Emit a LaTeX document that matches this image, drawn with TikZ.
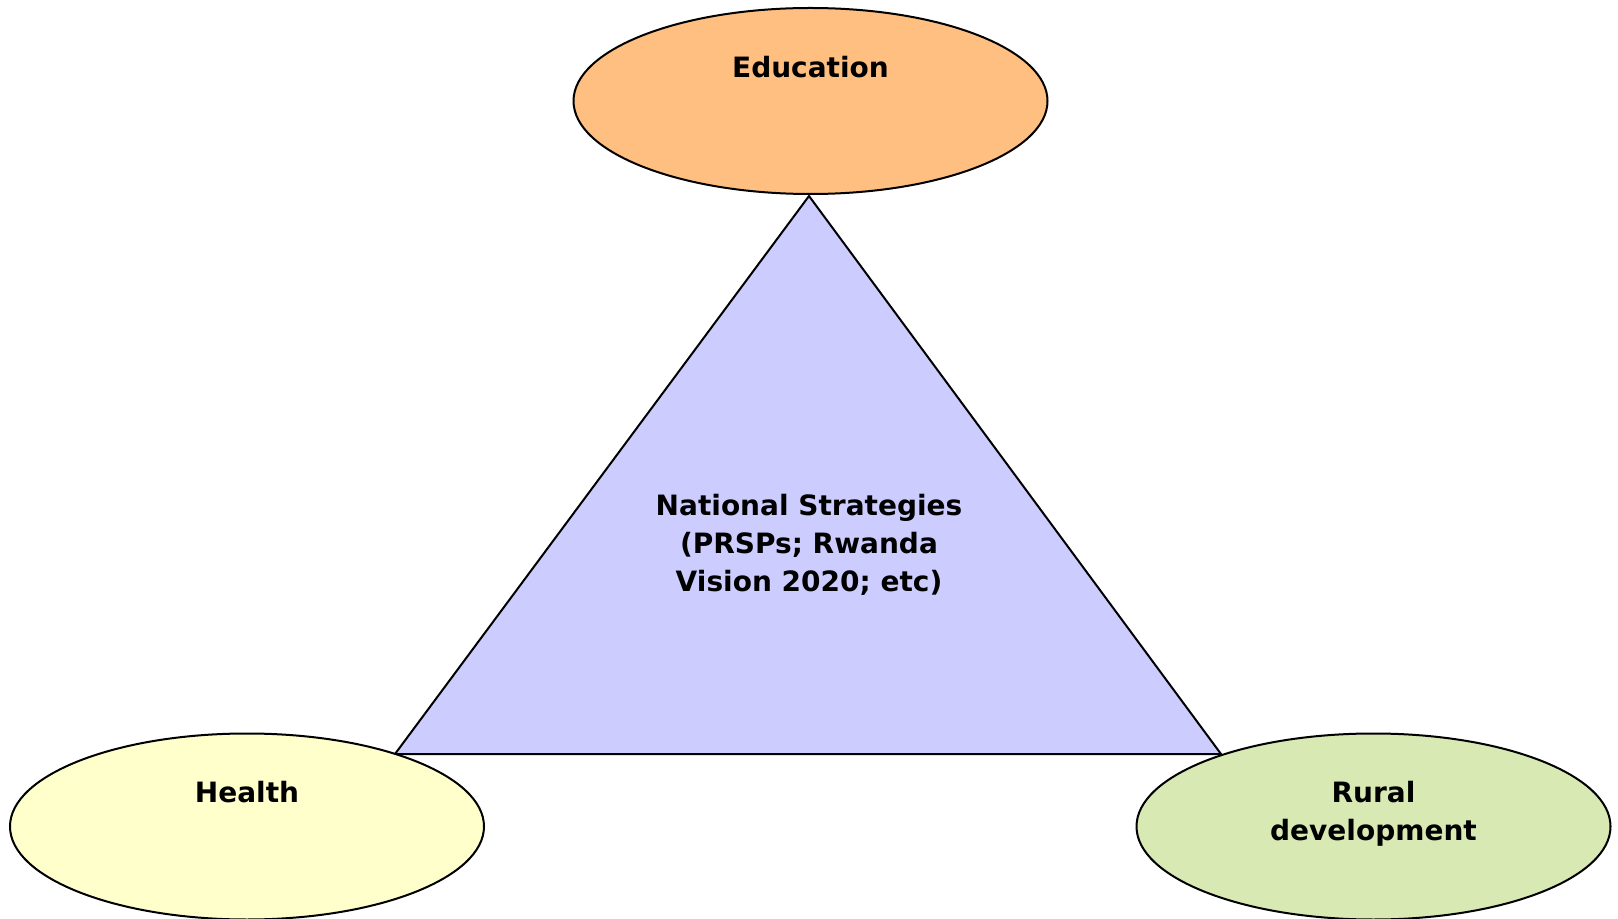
\documentclass[tikz,border=0pt]{standalone}
\usepackage{fontspec}
\setmainfont{DejaVu Sans}
\usepackage{xcolor}
\usetikzlibrary{shapes.geometric, positioning}
\definecolor{eduorange}{RGB}{255,191,128}
\definecolor{healthyellow}{RGB}{255,255,204}
\definecolor{ruralgreen}{RGB}{216,233,179}
\definecolor{strategyblue}{RGB}{204,204,255}
\tikzset{
x=0.5pt, y=-0.5pt, % one unit is one pixel of the reference
sector/.style={ellipse, draw=black, line width=1pt, minimum width=237pt, minimum height=93pt, inner sep=0pt}, % the three sector ellipses
sectortext/.style={font=\bfseries\fontsize{14}{19}\selectfont, align=center, anchor=base, inner sep=0pt}, % labels in the ellipses
strategy/.style={draw=black, line width=1pt, fill=strategyblue, line join=miter}, % the middle triangle
}

\begin{document}
\begin{tikzpicture}
    \useasboundingbox (0,0) rectangle (1618,919);
    % triangle corners
    \coordinate (apex) at (809,196);
    \coordinate (baseleft) at (395,754);
    \coordinate (baseright) at (1221,754);
    \draw[strategy] (apex) -- (baseleft) -- (baseright) -- cycle;
    \node[font=\bfseries\fontsize{14}{19}\selectfont, align=center, inner sep=0pt] (national) at (809,545)
        {National Strategies\\(PRSPs; Rwanda\\Vision 2020; etc)};

    % sector ellipses
    \node[sector, fill=eduorange] (edu) at (810.5,101) {};
    \node[sector, fill=healthyellow] (health) at (247,826.5) {};
    \node[sector, fill=ruralgreen] (rural) at (1373.5,826.5) {};

    \node[sectortext] (edutext) at (810.5,78) {Education};
    \node[sectortext] (healthtext) at (247,802) {Health};
    \node[sectortext] (ruraltext) at (1373.5,802) {Rural};
    \node[sectortext] (devtext) at (1373.5,840) {development};
\end{tikzpicture}
\end{document}
